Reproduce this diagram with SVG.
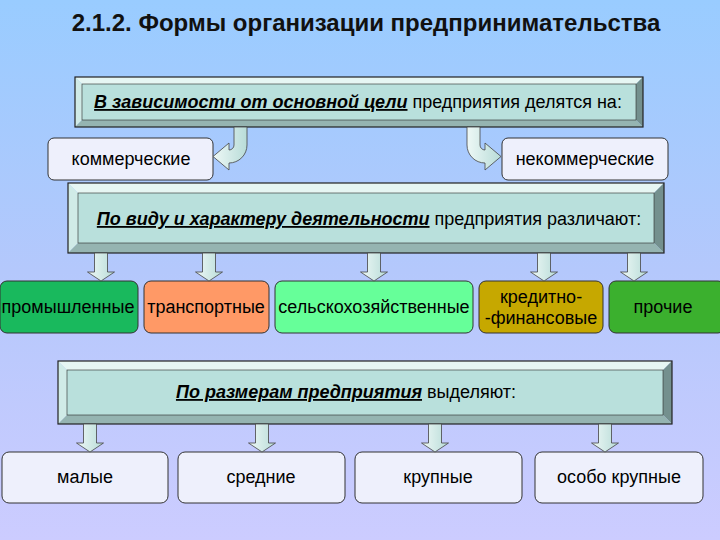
<svg xmlns="http://www.w3.org/2000/svg" width="720" height="540" viewBox="0 0 720 540">
<defs>
<linearGradient id="bg" x1="0" y1="0" x2="0" y2="1">
<stop offset="0" stop-color="#99ccff"/>
<stop offset="0.5" stop-color="#b4c8fc"/>
<stop offset="1" stop-color="#ccccff"/>
</linearGradient>
<linearGradient id="arr" x1="0" y1="0" x2="1" y2="0">
<stop offset="0" stop-color="#eef8f6"/>
<stop offset="1" stop-color="#b8dcd8"/>
</linearGradient>
<style>
text{font-family:"Liberation Sans",Arial,sans-serif;fill:#000}
.title{font-size:24px;font-weight:bold;fill:#111}
.bt{font-size:18px;text-anchor:middle}
.em{font-weight:bold;font-style:italic;text-decoration:underline}
.nt{font-size:18px;text-anchor:middle}
.tf{fill:#e6f6f3}
.lf{fill:#d0ebe7}
.rf{fill:#74908e}
.bf{fill:#95b4b1}
.face{fill:#b9e0dc;stroke:#2a2a2a;stroke-width:0.6}
.out{fill:none;stroke:#222;stroke-width:1.2}
.lbox{fill:#eef0fc;stroke:#333;stroke-width:1}
.cbox{stroke:#333;stroke-width:1}
.arrow{fill:url(#arr);stroke:#444;stroke-width:0.8}
</style>
</defs>
<rect width="720" height="540" fill="url(#bg)"/>
<text class="title" x="366" y="31" text-anchor="middle">2.1.2. Формы организации предпринимательства</text>

<g id="box1">
<polygon class="tf" points="75,77 643,77 636,84 82,84"/>
<polygon class="lf" points="75,77 82,84 82,120 75,127"/>
<polygon class="rf" points="643,77 643,127 636,120 636,84"/>
<polygon class="bf" points="75,127 643,127 636,120 82,120"/>
<rect class="face" x="82" y="84" width="554" height="36"/>
<rect class="out" x="75" y="77" width="568" height="50"/>
<text class="bt" x="358" y="108"><tspan class="em">В зависимости от основной цели</tspan> предприятия делятся на:</text>
</g>

<g id="kommer">
<rect class="lbox" x="48" y="138" width="165" height="42" rx="6"/>
<text class="nt" x="131" y="165">коммерческие</text>
</g>
<g id="nekommer">
<rect class="lbox" x="502" y="138" width="166" height="42" rx="6"/>
<text class="nt" x="585" y="165">некоммерческие</text>
</g>

<g id="box2">
<polygon class="tf" points="68,183 664,183 654,193 78,193"/>
<polygon class="lf" points="68,183 78,193 78,243 68,253"/>
<polygon class="rf" points="664,183 664,253 654,243 654,193"/>
<polygon class="bf" points="68,253 664,253 654,243 78,243"/>
<rect class="face" x="78" y="193" width="576" height="50"/>
<rect class="out" x="68" y="183" width="596" height="70"/>
<text class="bt" x="369" y="225"><tspan class="em">По виду и характеру деятельности</tspan> предприятия различают:</text>
</g>

<g id="prom">
<rect class="cbox" x="0" y="281" width="138" height="52" rx="7" fill="#19b95d"/>
<text class="nt" x="68" y="313">промышленные</text>
</g>
<g id="trans">
<rect class="cbox" x="144" y="281" width="125" height="52" rx="7" fill="#ff9966"/>
<text class="nt" x="206" y="313">транспортные</text>
</g>
<g id="selsk">
<rect class="cbox" x="275" y="281" width="198" height="52" rx="7" fill="#66ff99"/>
<text class="nt" x="374" y="313">сельскохозяйственные</text>
</g>
<g id="kredit">
<rect class="cbox" x="479" y="281" width="124" height="52" rx="7" fill="#c6a800"/>
<text class="nt" x="541" y="303">кредитно-</text>
<text class="nt" x="541" y="324">-финансовые</text>
</g>
<g id="proch">
<rect class="cbox" x="609" y="281" width="116" height="52" rx="7" fill="#3bb02e"/>
<text class="nt" x="663" y="313">прочие</text>
</g>

<g id="box3">
<polygon class="tf" points="58,361 672,361 663,370 67,370"/>
<polygon class="lf" points="58,361 67,370 67,415 58,424"/>
<polygon class="rf" points="672,361 672,424 663,415 663,370"/>
<polygon class="bf" points="58,424 672,424 663,415 67,415"/>
<rect class="face" x="67" y="370" width="596" height="45"/>
<rect class="out" x="58" y="361" width="614" height="63"/>
<text class="bt" x="346" y="398"><tspan class="em">По размерам предприятия</tspan> выделяют:</text>
</g>

<g id="small">
<rect class="lbox" x="2" y="452" width="166" height="51" rx="7"/>
<text class="nt" x="85" y="483">малые</text>
</g>
<g id="medium">
<rect class="lbox" x="178" y="452" width="167" height="51" rx="7"/>
<text class="nt" x="261" y="483">средние</text>
</g>
<g id="large">
<rect class="lbox" x="355" y="452" width="167" height="51" rx="7"/>
<text class="nt" x="438" y="483">крупные</text>
</g>
<g id="xlarge">
<rect class="lbox" x="535" y="452" width="168" height="51" rx="7"/>
<text class="nt" x="619" y="483">особо крупные</text>
</g>

<g id="connectors">
<path class="arrow" d="M234,127 H247 V145 A18,18 0 0 1 229,163 V170 L213,156.5 L229,143 V150 A5,5 0 0 0 234,145 Z"/>
<path class="arrow" d="M480,127 H467 V145 A18,18 0 0 0 485,163 V170 L501,156.5 L485,143 V150 A5,5 0 0 1 480,145 Z"/>
<path class="arrow" d="M94.5,253 H107.5 V272 H114.5 L101,281 L87.5,272 H94.5 Z"/>
<path class="arrow" d="M202.5,253 H215.5 V272 H222.5 L209,281 L195.5,272 H202.5 Z"/>
<path class="arrow" d="M367.5,253 H380.5 V272 H387.5 L374,281 L360.5,272 H367.5 Z"/>
<path class="arrow" d="M537.5,253 H550.5 V272 H557.5 L544,281 L530.5,272 H537.5 Z"/>
<path class="arrow" d="M627.5,253 H640.5 V272 H647.5 L634,281 L620.5,272 H627.5 Z"/>
<path class="arrow" d="M83.5,424 H96.5 V443 H103.5 L90,452 L76.5,443 H83.5 Z"/>
<path class="arrow" d="M255.5,424 H268.5 V443 H275.5 L262,452 L248.5,443 H255.5 Z"/>
<path class="arrow" d="M428.5,424 H441.5 V443 H448.5 L435,452 L421.5,443 H428.5 Z"/>
<path class="arrow" d="M598.5,424 H611.5 V443 H618.5 L605,452 L591.5,443 H598.5 Z"/>
</g>
</svg>
